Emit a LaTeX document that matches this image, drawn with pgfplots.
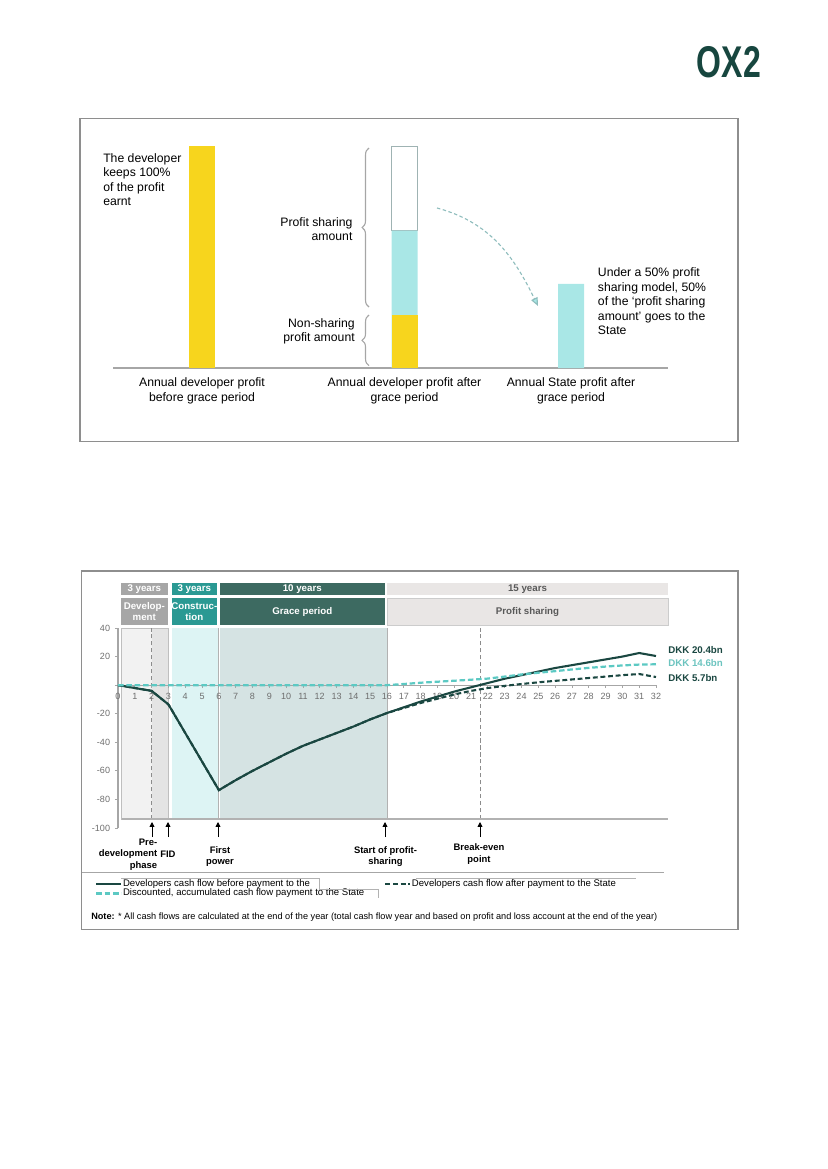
\documentclass[border=0pt]{standalone}
\usepackage{pgfplots}
\pgfplotsset{compat=1.18}
\usepackage{fontspec}
\setmainfont{Liberation Sans}
\usetikzlibrary{decorations.pathreplacing,arrows.meta}

\definecolor{ox}{HTML}{17463F}
\definecolor{dark}{HTML}{1A4741}
\definecolor{cyanline}{HTML}{5CC9C3}
\definecolor{cyantext}{HTML}{6CC4BF}
\definecolor{yel}{HTML}{F7D51D}
\definecolor{cyanbar}{HTML}{A9E7E6}
\definecolor{barborder}{HTML}{9FB3B3}
\definecolor{bracec}{HTML}{A6A6A6}
\definecolor{framec}{HTML}{8E8E8E}
\definecolor{axgray}{HTML}{A6A6A6}
\definecolor{tickgray}{HTML}{6E6E6E}
\definecolor{hdev}{HTML}{A6A6A6}
\definecolor{hcon}{HTML}{2A9993}
\definecolor{hgrace}{HTML}{3D6A61}
\definecolor{hprof}{HTML}{E9E6E5}
\definecolor{hproftext}{HTML}{595959}
\definecolor{fdev}{HTML}{F2F2F2}
\definecolor{fdev2}{HTML}{E4E4E4}
\definecolor{fcon}{HTML}{DDF4F4}
\definecolor{fgrace}{HTML}{D5E3E3}
\definecolor{arrowc}{HTML}{8FBDBD}

\begin{document}
\begin{tikzpicture}[x=0.72pt,y=0.72pt]
\path[use as bounding box] (0,0) rectangle (827,-1169);
\coordinate (topax) at (113,-368);
\coordinate (lowax) at (118,-828);

% logo
\node[text=ox, font=\fontsize{32}{32}\selectfont\bfseries, xscale=0.72, inner sep=0] at (729,-62) {OX2};

%%%%%%%%%%%%%%%% upper figure
\draw[framec, line width=1.2pt] (80,-118.5) rectangle (738,-441.5);

\begin{axis}[
  at={(topax)}, anchor=south west,
  scale only axis, width=399.6pt, height=159.55pt,
  xmin=113, xmax=668, ymin=0, ymax=100,
  axis x line=bottom, axis y line=none,
  axis line style={draw=axgray, line width=0.8pt, -},
  xtick={202,404.5,571},
  xticklabels={{Annual developer profit\\before grace period},
               {Annual developer profit after\\grace period},
               {Annual State profit after\\grace period}},
  major tick length=0pt,
  xticklabel style={align=center, font=\fontsize{8.8}{10.8}\selectfont, inner sep=0pt, anchor=north, yshift=-7pt},
  ytick=\empty,
  bar width=26, bar shift=0pt,
  clip=false,
]
\addplot[ybar, fill=yel, draw=none] coordinates {(202,100)};
\addplot[fill=white, draw=barborder, line width=0.8pt] coordinates {(391.5,62) (417.5,62) (417.5,100) (391.5,100)} -- cycle;
\addplot[ybar, fill=cyanbar, draw=none] coordinates {(404.5,62) (571,38)};
\addplot[ybar, fill=yel, draw=none] coordinates {(404.5,24)};
\end{axis}

\draw[bracec, line width=0.8pt, decorate, decoration={brace, amplitude=5pt}] (369,-307) -- (369,-148);
\draw[bracec, line width=0.8pt, decorate, decoration={brace, amplitude=5pt}] (369,-365.7) -- (369,-315);

\draw[arrowc, line width=0.8pt, dash pattern=on 2.5pt off 1.8pt,
  -{Triangle[length=6pt, width=5pt, fill=cyanbar]}]
  (437,-208) to[out=-15, in=116] (538,-306);

\node[anchor=north west, align=left, inner sep=0pt, font=\fontsize{8.8}{10.5}\selectfont] at (103,-153)
  {The developer\\keeps 100\%\\of the profit\\earnt};
\node[anchor=north east, align=right, inner sep=0pt, font=\fontsize{8.8}{10.1}\selectfont] at (352.7,-217.3)
  {Profit sharing\\amount};
\node[anchor=north east, align=right, inner sep=0pt, font=\fontsize{8.8}{10.4}\selectfont] at (355,-318)
  {Non-sharing\\profit amount};
\node[anchor=north west, align=left, inner sep=0pt, font=\fontsize{8.8}{10.5}\selectfont] at (597.7,-267.3)
  {Under a 50\% profit\\sharing model, 50\%\\of the ‘profit sharing\\amount’ goes to the\\State};

%%%%%%%%%%%%%%%% lower figure
\draw[framec, line width=1.2pt] (81.5,-571) rectangle (738,-929.5);

% header boxes
\fill[hdev] (121,-582.7) rectangle (167.7,-595);
\fill[hcon] (171.7,-582.7) rectangle (217,-595);
\fill[hgrace] (219.7,-582.7) rectangle (385,-595);
\fill[hprof] (387,-582.7) rectangle (668,-595);
\fill[hdev] (121,-598) rectangle (167.7,-625);
\fill[hcon] (171.7,-598) rectangle (217,-625);
\fill[hgrace] (219.7,-598) rectangle (385,-625);
\filldraw[fill=hprof, draw=black!20, line width=0.4pt] (387,-598) rectangle (668,-625);

\begin{scope}[every node/.style={font=\fontsize{7}{8.4}\selectfont\bfseries, inner sep=0pt, align=center}]
\node[white] at (144.3,-588.8) {3 years};
\node[white] at (194.3,-588.8) {3 years};
\node[white] at (302.3,-588.8) {10 years};
\node[hproftext] at (527.5,-588.8) {15 years};
\node[white] at (144.3,-611.5) {Develop-\\ment};
\node[white] at (194.3,-611.5) {Construc-\\tion};
\node[white] at (302.3,-611.5) {Grace period};
\node[hproftext] at (527.5,-611.5) {Profit sharing};
\end{scope}

% phase shading (background axis, same geometry)
\begin{axis}[
  at={(lowax)}, anchor=south west,
  scale only axis, width=387.36pt, height=144pt,
  xmin=0, xmax=32, ymin=-100, ymax=40,
  axis lines=none, ticks=none, clip=false,
]
\addplot[fill=fdev, draw=none] coordinates {(0.22,-93.7) (2,-93.7) (2,40) (0.22,40)} -- cycle;
\addplot[fill=fdev2, draw=none] coordinates {(2,-93.7) (2.97,-93.7) (2.97,40) (2,40)} -- cycle;
\addplot[fill=fcon, draw=none] coordinates {(3.2,-93.7) (5.96,-93.7) (5.96,40) (3.2,40)} -- cycle;
\addplot[fill=fgrace, draw=none] coordinates {(6.05,-93.7) (16,-93.7) (16,40) (6.05,40)} -- cycle;
\draw[black!25, line width=0.6pt] (axis cs:0.22,-93.7) rectangle (axis cs:2.97,40);
\draw[black!45, line width=0.4pt, densely dashed] (axis cs:2,-93.7) -- (axis cs:2,40);
\draw[black!30, line width=0.7pt] (axis cs:5.98,-93.7) -- (axis cs:5.98,40);
\draw[black!30, line width=0.7pt] (axis cs:16,-93.7) -- (axis cs:16,40);
\draw[black!45, line width=0.4pt, densely dashed] (axis cs:21.55,-93.7) -- (axis cs:21.55,40);
\draw[black!30, line width=1.7pt] (axis cs:0.22,-93.7) -- (axis cs:32.7,-93.7);
\end{axis}

\begin{axis}[
  at={(lowax)}, anchor=south west,
  scale only axis, width=387.36pt, height=144pt,
  xmin=0, xmax=32, ymin=-100, ymax=40,
  axis x line=middle, axis y line=left,
  axis line style={draw=axgray, line width=0.9pt, -},
  hide obscured x ticks=false,
  xtick={0,1,...,32}, ytick={-100,-80,-60,-40,-20,0,20,40},
  yticklabels={-100,-80,-60,-40,-20,,20,40},
  tick align=outside, major tick length=2.2pt,
  tick style={draw=axgray, line width=0.6pt},
  ticklabel style={font=\fontsize{6.5}{7}\selectfont, text=tickgray},
  /pgf/number format/assume math mode=true,
  clip=false,
  legend columns=2,
  legend cell align=left,
  legend style={at={(-0.0428,-0.253)}, anchor=north west, draw=none, fill=none,
     inner sep=0pt, font=\fontsize{6.9}{7}\selectfont,
     /tikz/every even column/.append style={column sep=14pt},
     nodes={inner sep=0.4pt, text height=4.9pt, text depth=1.3pt}},
  legend image code/.code={\draw[#1] (0pt,0pt) -- (18pt,0pt);},
]
\addplot[dark, line width=1.5pt] coordinates {
 (0,0) (1,-2) (2,-4) (3,-13.5) (4,-33.5) (5,-53.5) (6,-73.5) (7,-66.5) (8,-60)
 (9,-54) (10,-48) (11,-42.5) (12,-38) (13,-33.5) (14,-29) (15,-24) (16,-19.5)
 (17,-15.5) (18,-11.5) (19,-8) (20,-4.5) (21,-1.5) (22,1.5) (23,4.5) (24,7)
 (25,9.5) (26,12) (27,14) (28,16) (29,18) (30,20) (31,22.5) (32,20.4)};
\addlegendentry{Developers cash flow before payment to the}
\addplot[dark, line width=1.5pt, dash pattern=on 3.5pt off 2pt] coordinates {
 (0,0) (1,-2) (2,-4) (3,-13.5) (4,-33.5) (5,-53.5) (6,-73.5) (7,-66.5) (8,-60)
 (9,-54) (10,-48) (11,-42.5) (12,-38) (13,-33.5) (14,-29) (15,-24) (16,-19.5)
 (17,-16) (18,-12.5) (19,-9.5) (20,-6.5) (21,-4) (22,-2) (23,-0.5) (24,0.8)
 (25,2) (26,3) (27,4) (28,5) (29,6) (30,7) (31,7.8) (32,5.7)};
\addlegendentry{Developers cash flow after payment to the State}
\addplot[cyanline, line width=1.6pt, dash pattern=on 4pt off 2pt] coordinates {
 (0,0) (2,0) (4,0) (6,0) (8,0) (10,0) (12,0) (14,0) (16,0) (17,0.8) (18,1.7)
 (19,2.4) (20,3.1) (21,3.8) (22,4.6) (23,6) (24,7.5) (25,8.7) (26,9.8) (27,11)
 (28,12.1) (29,13) (30,13.8) (31,14.4) (32,14.6)};
\addlegendentry{Discounted, accumulated cash flow payment to the State}
\end{axis}

% end labels
\node[anchor=west, inner sep=0pt, font=\fontsize{7}{8}\selectfont\bfseries, text=dark] at (668,-650) {DKK 20.4bn};
\node[anchor=west, inner sep=0pt, font=\fontsize{7}{8}\selectfont\bfseries, text=cyantext] at (668,-662.7) {DKK 14.6bn};
\node[anchor=west, inner sep=0pt, font=\fontsize{7}{8}\selectfont\bfseries, text=dark] at (668,-678.3) {DKK 5.7bn};

% milestone arrows
\foreach \xx in {152,168,218,385,480}
  \draw[black, line width=0.6pt, -{Triangle[length=3.5pt, width=3.5pt]}] (\xx,-837) -- (\xx,-822);

\begin{scope}[every node/.style={font=\fontsize{6.8}{8.5}\selectfont\bfseries, inner sep=0pt}]
\node[anchor=north east, align=right] at (157.5,-838.3) {Pre-\\development\\phase};
\node[anchor=west] at (160,-854.3) {FID};
\node[anchor=north, align=center] at (220,-846) {First\\power};
\node[anchor=north, align=center] at (385.5,-846) {Start of profit-\\sharing};
\node[anchor=north, align=center] at (479,-843.3) {Break-even\\point};
\end{scope}

\draw[axgray, line width=1.1pt] (82,-872.3) -- (664,-872.3);

% legend text frames
\draw[black!30, line width=0.3pt] (121,-878.3) -- (319,-878.3) -- (319,-889) -- (378,-889) -- (378,-898);
\draw[black!30, line width=0.3pt] (416,-878.3) -- (636,-878.3);

\node[anchor=west, inner sep=0pt, font=\fontsize{6.6}{7}\selectfont] at (91,-916.7)
  {\textbf{Note:} * All cash flows are calculated at the end of the year (total cash flow year and based on profit and loss account at the end of the year)};
\end{tikzpicture}
\end{document}
